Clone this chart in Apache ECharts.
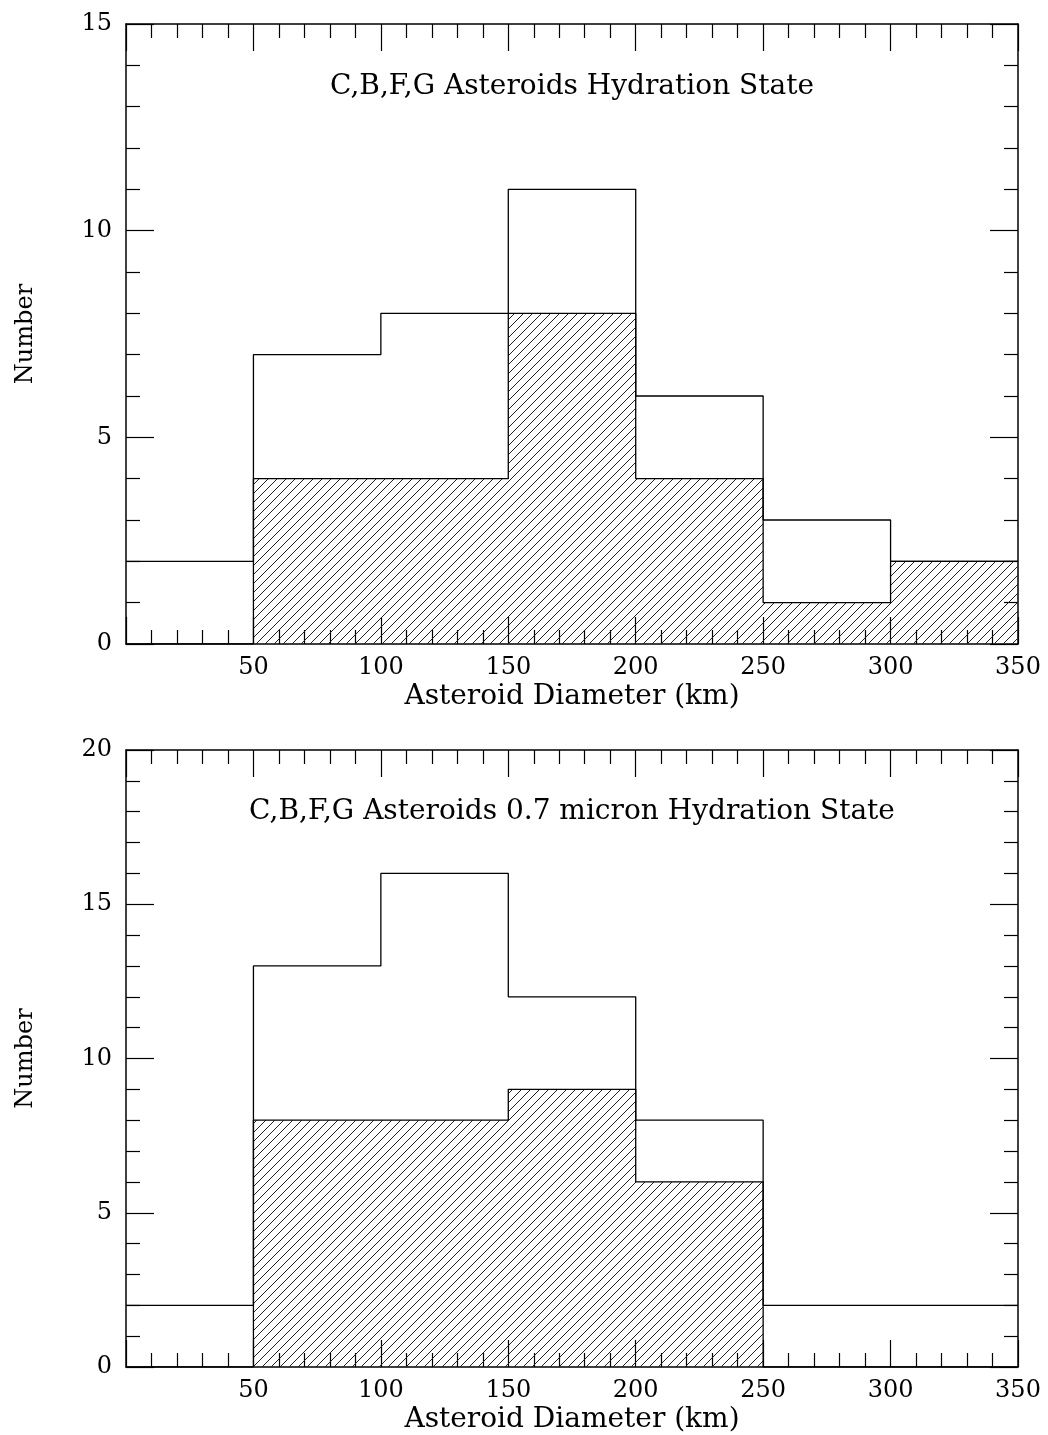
<!DOCTYPE html>
<html>
<head>
<meta charset="utf-8">
<script src="https://cdn.jsdelivr.net/npm/echarts@6/dist/echarts.min.js"></script>
<style>
  html, body { margin: 0; padding: 0; background: #fff; }
  #chart { width: 1048px; height: 1435px; }
</style>
</head>
<body>
<div id="chart"></div>
<script>
// bin edges (km) and counts per bin
const binEdges = [0, 50, 100, 150, 200, 250, 300, 350]
const topTotal = [2, 7, 8, 11, 6, 3, 2]
const topHydrated = [0, 4, 4, 8, 4, 1, 2]
const botTotal = [2, 13, 16, 12, 8, 2, 2]
const botHydrated = [0, 8, 8, 9, 6, 0, 0]
const xTickLabels = [50, 100, 150, 200, 250, 300, 350]
const topTitle = 'C,B,F,G Asteroids Hydration State'
const botTitle = 'C,B,F,G Asteroids 0.7 micron Hydration State'

const FONT = 'DejaVu Serif'

// step points: value held from each edge to the next
function stepData(counts) {
  let pts = counts.map((c, i) => [binEdges[i], c])
  pts.push([binEdges[binEdges.length - 1], counts[counts.length - 1]])
  return pts
}

// diagonal hatch pattern
function hatch() {
  const s = 9
  const c = document.createElement('canvas')
  c.width = s; c.height = s
  const ctx = c.getContext('2d')
  ctx.strokeStyle = '#222'
  ctx.lineWidth = 1
  ctx.beginPath()
  ctx.moveTo(-1, s + 1); ctx.lineTo(s + 1, -1)
  ctx.moveTo(-2, 2); ctx.lineTo(2, -2)
  ctx.moveTo(s - 2, s + 2); ctx.lineTo(s + 2, s - 2)
  ctx.stroke()
  return { image: c, repeat: 'repeat' }
}
const pattern = hatch()

function xAxes(gridIndex) {
  const base = {
    type: 'value', gridIndex, min: 0, max: 350, interval: 50,
    axisLine: { onZero: false, lineStyle: { color: '#000', width: 1.5 } },
    axisTick: { inside: true, length: 27, lineStyle: { color: '#000', width: 1.2 } },
    minorTick: { show: true, splitNumber: 5, length: 14, lineStyle: { color: '#000', width: 1.2 } },
    splitLine: { show: false }
  }
  return [
    Object.assign({}, base, {
      position: 'bottom',
      name: 'Asteroid Diameter (km)', nameLocation: 'middle', nameGap: 39,
      nameTextStyle: { fontFamily: FONT, fontSize: 28, color: '#000' },
      axisLabel: {
        margin: 12, fontFamily: FONT, fontSize: 24, color: '#000',
        formatter: v => xTickLabels.includes(v) ? String(v) : ''
      }
    }),
    Object.assign({}, base, { position: 'top', axisLabel: { show: false } })
  ]
}

function yAxes(gridIndex, max) {
  const base = {
    type: 'value', gridIndex, min: 0, max, interval: 5,
    axisLine: { show: true, onZero: false, lineStyle: { color: '#000', width: 1.5 } },
    axisTick: { show: true, inside: true, length: 28, lineStyle: { color: '#000', width: 1.2 } },
    minorTick: { show: true, splitNumber: 5, length: 14, lineStyle: { color: '#000', width: 1.2 } },
    splitLine: { show: false }
  }
  return [
    Object.assign({}, base, {
      position: 'left',
      name: 'Number', nameLocation: 'middle', nameGap: 88, nameRotate: 90,
      nameTextStyle: { fontFamily: FONT, fontSize: 24, color: '#000' },
      axisLabel: { margin: 14, fontFamily: FONT, fontSize: 24, color: '#000' }
    }),
    Object.assign({}, base, { position: 'right', axisLabel: { show: false } })
  ]
}

function histSeries(axisIdx, hydrated, total) {
  return [
    {
      type: 'line', xAxisIndex: axisIdx, yAxisIndex: axisIdx, step: 'end',
      symbol: 'none', data: stepData(hydrated),
      lineStyle: { color: '#000', width: 1.3 },
      areaStyle: { color: pattern, opacity: 1 },
      silent: true, z: 2
    },
    {
      type: 'line', xAxisIndex: axisIdx, yAxisIndex: axisIdx, step: 'end',
      symbol: 'none', data: stepData(total),
      lineStyle: { color: '#000', width: 1.3 },
      silent: true, z: 3
    }
  ]
}

const chart = echarts.init(document.getElementById('chart'))
chart.setOption({
  backgroundColor: '#fff',
  animation: false,
  grid: [
    { left: 126, right: 30, top: 24, height: 620 },
    { left: 126, right: 30, top: 750, height: 619 }
  ],
  xAxis: [...xAxes(0), ...xAxes(1)],
  yAxis: [...yAxes(0, 15), ...yAxes(1, 20)],
  series: [
    ...histSeries(0, topHydrated, topTotal),
    ...histSeries(2, botHydrated, botTotal)
  ],
  graphic: [
    { type: 'text', x: 572, y: 87, style: { text: topTitle, font: '28px "DejaVu Serif"', fill: '#000', align: 'center', verticalAlign: 'middle' } },
    { type: 'text', x: 572, y: 812, style: { text: botTitle, font: '28px "DejaVu Serif"', fill: '#000', align: 'center', verticalAlign: 'middle' } }
  ]
})
</script>
</body>
</html>
